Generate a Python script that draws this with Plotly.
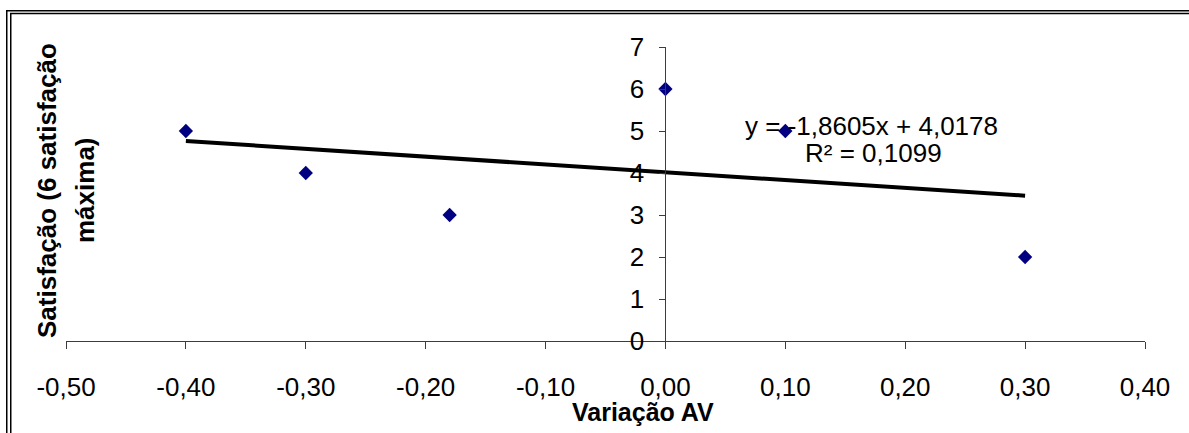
import plotly.graph_objects as go

# Variação AV vs. satisfação (escala até 6)
variacao_av = [-0.40, -0.30, -0.18, 0.00, 0.10, 0.30]
satisfacao = [5, 4, 3, 6, 5, 2]

# Linear trendline coefficients, as printed in the equation label
trend_slope = -1.8605
trend_intercept = 4.0178
trend_r2 = 0.1099

x_ticks = [-0.5, -0.4, -0.3, -0.2, -0.1, 0.0, 0.1, 0.2, 0.3, 0.4]
x_tick_labels = ["-0,50", "-0,40", "-0,30", "-0,20", "-0,10", "0,00", "0,10", "0,20", "0,30", "0,40"]
y_ticks = [0, 1, 2, 3, 4, 5, 6, 7]
y_tick_labels = ["0", "1", "2", "3", "4", "5", "6", "7"]

W, H = 1189, 433
ML, MR, MT, MB = 66, 44, 47, 92
PW = W - ML - MR
PH = H - MT - MB
X_MIN, X_MAX = -0.5, 0.4

FONT = "Liberation Sans, Arial, sans-serif"
AXIS_COLOR = "#3c3c3c"


def px_x(p):
    return (p - ML) / PW


def px_y(p):
    return (H - MB - p) / PH


def fmt_pt(v, nd):
    return f"{v:.{nd}f}".replace(".", ",")


trend_x = [min(variacao_av), max(variacao_av)]
trend_y = [trend_slope * x + trend_intercept for x in trend_x]

fig = go.Figure()

fig.add_trace(go.Scatter(
    x=trend_x, y=trend_y, mode="lines",
    line=dict(color="black", width=4),
    hoverinfo="skip", showlegend=False,
))

fig.add_trace(go.Scatter(
    x=variacao_av, y=satisfacao, mode="markers",
    marker=dict(symbol="diamond", size=11, color="#000080", line=dict(width=0)),
    cliponaxis=False, showlegend=False,
))

eq_text = f"y = {'-' if trend_slope < 0 else ''}{fmt_pt(abs(trend_slope), 4)}x + {fmt_pt(trend_intercept, 4)}"
r2_text = f"R² = {fmt_pt(trend_r2, 4)}"

annotations = [
    dict(text=eq_text, x=px_x(871), y=px_y(126), xref="paper", yref="paper",
         xanchor="center", yanchor="middle", showarrow=False,
         font=dict(family=FONT, size=26, color="black")),
    dict(text=r2_text, x=px_x(873), y=px_y(153), xref="paper", yref="paper",
         xanchor="center", yanchor="middle", showarrow=False,
         font=dict(family=FONT, size=26, color="black")),
    dict(text="Variação AV", x=px_x(643), y=px_y(412), xref="paper", yref="paper",
         xanchor="center", yanchor="middle", showarrow=False,
         font=dict(family=FONT, size=25, color="black", weight="bold")),
    dict(text="Satisfação (6 satisfação", x=px_x(47), y=px_y(191), xref="paper", yref="paper",
         xanchor="center", yanchor="middle", showarrow=False, textangle=-90,
         font=dict(family=FONT, size=26, color="black", weight="bold")),
    dict(text="máxima)", x=px_x(85), y=px_y(190), xref="paper", yref="paper",
         xanchor="center", yanchor="middle", showarrow=False, textangle=-90,
         font=dict(family=FONT, size=26, color="black", weight="bold")),
]

# Double frame along the top and left edges of the chart
border = dict(color="black", width=1.5)
shapes = [
    dict(type="line", xref="paper", yref="paper",
         x0=px_x(6), x1=px_x(W + 5), y0=px_y(10.75), y1=px_y(10.75), line=border),
    dict(type="line", xref="paper", yref="paper",
         x0=px_x(10), x1=px_x(W + 5), y0=px_y(13.5), y1=px_y(13.5), line=border),
    dict(type="line", xref="paper", yref="paper",
         x0=px_x(6.75), x1=px_x(6.75), y0=px_y(10), y1=px_y(H + 5), line=border),
    dict(type="line", xref="paper", yref="paper",
         x0=px_x(10.75), x1=px_x(10.75), y0=px_y(13), y1=px_y(H + 5), line=border),
]

fig.update_layout(
    width=W, height=H,
    margin=dict(l=ML, r=MR, t=MT, b=MB, pad=0),
    paper_bgcolor="white", plot_bgcolor="white",
    showlegend=False,
    annotations=annotations,
    shapes=shapes,
    xaxis=dict(
        range=[X_MIN, X_MAX], tickvals=x_ticks, ticktext=x_tick_labels,
        showgrid=False, zeroline=False, showline=True,
        linecolor=AXIS_COLOR, linewidth=1,
        ticks="outside", ticklen=7, tickcolor=AXIS_COLOR, tickwidth=1,
        ticklabelstandoff=16,
        tickfont=dict(family=FONT, size=26, color="black"),
    ),
    yaxis=dict(
        range=[0, 7], tickvals=y_ticks, ticktext=y_tick_labels,
        anchor="free", position=(0 - X_MIN) / (X_MAX - X_MIN),
        showgrid=False, zeroline=False, showline=True,
        linecolor=AXIS_COLOR, linewidth=1,
        ticks="outside", ticklen=6, tickcolor=AXIS_COLOR, tickwidth=1,
        ticklabelstandoff=10,
        tickfont=dict(family=FONT, size=26, color="black"),
    ),
)

fig.write_html("out.html")
